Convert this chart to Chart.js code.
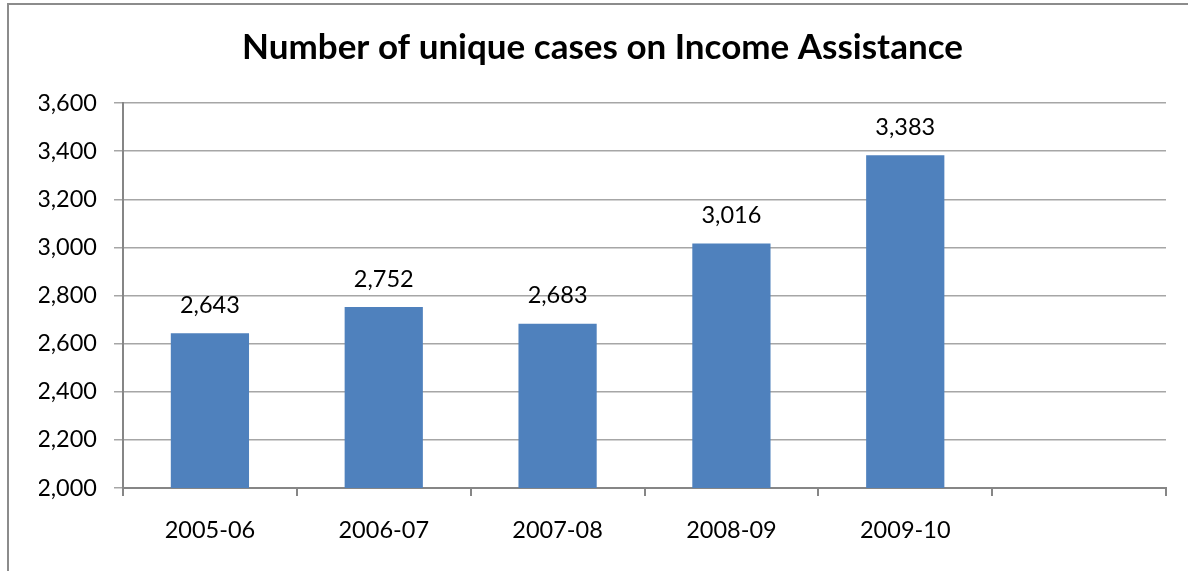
<!DOCTYPE html>
<html>
<head>
<meta charset="utf-8">
<script src="https://cdn.jsdelivr.net/npm/chart.js@4/dist/chart.umd.min.js"></script>
<style>
  html, body { margin: 0; padding: 0; background: #ffffff; }
  #wrap { position: relative; width: 1188px; height: 571px; }
</style>
</head>
<body>
<div id="wrap"><canvas id="c" width="1188" height="571"></canvas></div>
<script>
// Fiscal years shown along the bottom; the final slot is left empty.
const years = ['2005-06', '2006-07', '2007-08', '2008-09', '2009-10', ''];
// Unique Income Assistance cases per year.
const cases = [2643, 2752, 2683, 3016, 3383, null];
// Vertical axis range and step.
const yMin = 2000;
const yMax = 3600;
const yStep = 200;

const FONT = 'Lato, "Open Sans", sans-serif';
const fmt = v => v.toLocaleString('en-US');

// Grey frame along the top and left edges of the chart.
const framePlugin = {
  id: 'frame',
  beforeDraw(chart) {
    const ctx = chart.ctx;
    ctx.save();
    ctx.strokeStyle = '#8c8c8c';
    ctx.lineWidth = 2;
    ctx.beginPath();
    ctx.moveTo(8, chart.height);
    ctx.lineTo(8, 4);
    ctx.lineTo(chart.width, 4);
    ctx.stroke();
    ctx.restore();
  }
};

// Value written above each bar.
const valueLabels = {
  id: 'valueLabels',
  afterDatasetsDraw(chart) {
    const ctx = chart.ctx;
    const meta = chart.getDatasetMeta(0);
    ctx.save();
    ctx.font = '23.5px ' + FONT;
    ctx.fillStyle = '#000000';
    ctx.textAlign = 'center';
    ctx.textBaseline = 'middle';
    meta.data.forEach((bar, i) => {
      const v = cases[i];
      if (v == null) return;
      ctx.fillText(fmt(v), bar.x, bar.y - 28);
    });
    ctx.restore();
  }
};

new Chart(document.getElementById('c'), {
  type: 'bar',
  data: {
    labels: years,
    datasets: [{
      data: cases,
      backgroundColor: '#4f81bd',
      borderWidth: 0,
      categoryPercentage: 1,
      barPercentage: 0.45
    }]
  },
  options: {
    responsive: false,
    animation: false,
    layout: { padding: { left: 39, right: 22, top: 0, bottom: 0 } },
    plugins: {
      legend: { display: false },
      tooltip: { enabled: false },
      title: {
        display: true,
        text: 'Number of unique cases on Income Assistance',
        color: '#000000',
        font: { family: FONT, size: 35, weight: 'bold', lineHeight: 1.2 },
        padding: { top: 27, bottom: 34 }
      }
    },
    scales: {
      x: {
        offset: true,
        grid: {
          offset: true,
          drawOnChartArea: false,
          drawTicks: true,
          tickLength: 8,
          color: '#868686',
          lineWidth: 2
        },
        border: { display: true, color: '#868686', width: 2 },
        ticks: {
          color: '#000000',
          font: { family: FONT, size: 23.5 },
          padding: 20,
          maxRotation: 0
        },
        afterFit(scale) { scale.height = 83; }
      },
      y: {
        min: yMin,
        max: yMax,
        grid: {
          color: '#a6a6a6',
          lineWidth: 1.5,
          drawTicks: true,
          tickLength: 9
        },
        border: { display: true, color: '#868686', width: 2 },
        ticks: {
          stepSize: yStep,
          color: '#000000',
          font: { family: FONT, size: 23.5 },
          padding: 17,
          callback: v => fmt(v)
        },
        afterFit(scale) { scale.width = 84; }
      }
    }
  },
  plugins: [framePlugin, valueLabels]
});
</script>
</body>
</html>
